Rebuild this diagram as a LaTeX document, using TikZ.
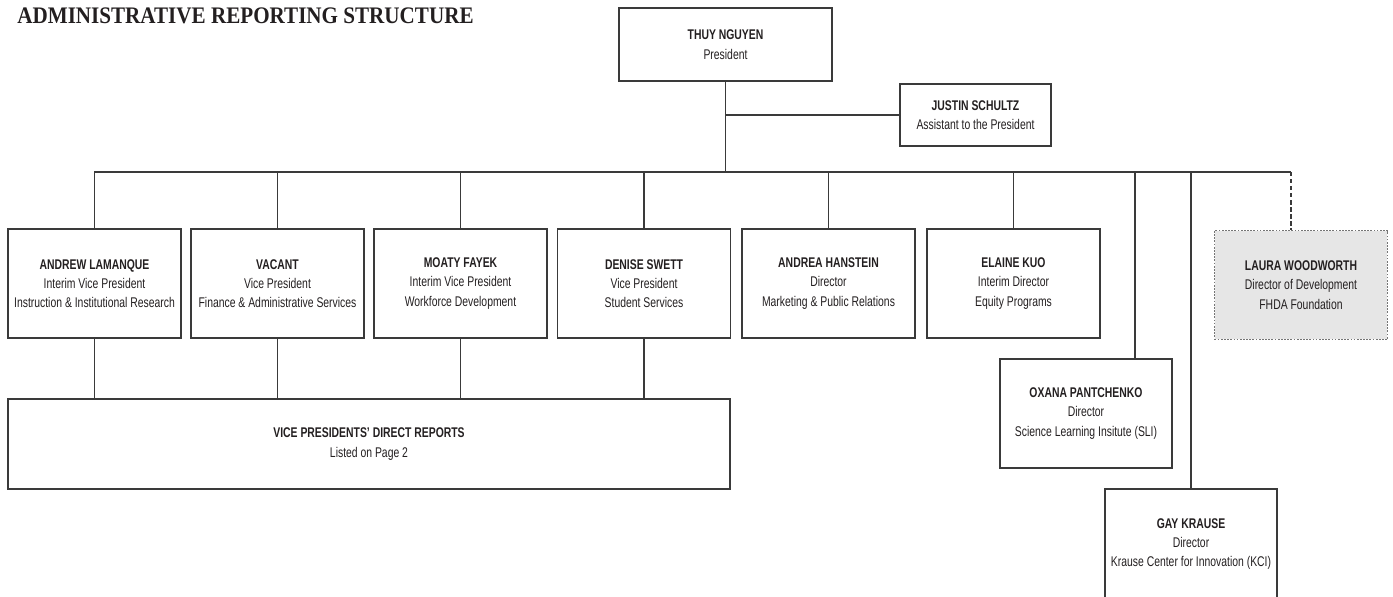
\documentclass[tikz,border=0pt]{standalone}
\usepackage{fontspec}
\setmainfont{Liberation Sans}[FakeStretch=0.74]
\newfontfamily\titlefont{Liberation Serif}[FakeStretch=0.89]
\definecolor{rule}{HTML}{3A3A3A}
\definecolor{ink}{HTML}{231F20}
\definecolor{shade}{HTML}{E6E6E6}

\begin{document}
\begin{tikzpicture}[x=0.02cm,y=-0.02cm,
  box/.style={draw=rule,line width=0.8pt,align=center,text=ink,inner sep=0pt,
    font=\fontsize{8}{11}\selectfont},
  unit/.style={box,minimum width=3.46cm,minimum height=2.18cm},
  link/.style={draw=rule,line width=0.8pt}]
\useasboundingbox (0,0) rectangle (1393,596);
\node [anchor=base west,inner sep=0pt,text=ink,font=\titlefont\bfseries\fontsize{13.5}{15}\selectfont] (title) at (17,23) {ADMINISTRATIVE REPORTING STRUCTURE};

\node [box,minimum width=4.26cm,minimum height=1.46cm] (pres) at (725.5,44.5) {\textbf{THUY NGUYEN}\\President};
\node [box,minimum width=3.02cm,minimum height=1.24cm] (asst) at (975.5,115) {\textbf{JUSTIN SCHULTZ}\\Assistant to the President};

\node [unit] (lam) at (94.5,283.5) {\textbf{ANDREW LAMANQUE}\\Interim Vice President\\Instruction \& Institutional Research};
\node [unit] (vac) at (277.5,283.5) {\textbf{VACANT}\\Vice President\\Finance \& Administrative Services};
\node [unit] (fay) at (460.5,283.5) {\textbf{MOATY FAYEK}\\Interim Vice President\\Workforce Development};
\node [unit] (swe) at (644,283.5) {\textbf{DENISE SWETT}\\Vice President\\Student Services};
\node [unit] (han) at (828.5,283.5) {\textbf{ANDREA HANSTEIN}\\Director\\Marketing \& Public Relations};
\node [unit] (kuo) at (1013.5,283.5) {\textbf{ELAINE KUO}\\Interim Director\\Equity Programs};
\node [unit,fill=shade,draw=rule!70,dash pattern=on 1pt off 0.8pt] (wood) at (1301,285) {\textbf{LAURA WOODWORTH}\\Director of Development\\FHDA Foundation};

\node [box,minimum width=14.44cm,minimum height=1.8cm] (vpr) at (369,444) {\textbf{VICE PRESIDENTS' DIRECT REPORTS}\\Listed on Page 2};
\node [unit,minimum width=3.44cm] (sli) at (1086,413.5) {\textbf{OXANA PANTCHENKO}\\Director\\Science Learning Insitute (SLI)};
\node [unit,minimum width=3.44cm,minimum height=2.2cm] (kci) at (1191,544) {\textbf{GAY KRAUSE}\\Director\\Krause Center for Innovation (KCI)};

\coordinate (bus) at (722,172);
\coordinate (sli tap) at (1135,172);
\coordinate (fnd tap) at (1291,172);

\draw [link] (pres.south) -- (pres.south |- bus);
\draw [link] (asst.west) -- (asst.west -| pres.south);
\draw [link] (lam.north) |- (fnd tap);
\draw [link,dash pattern=on 2.5pt off 1.5pt] (fnd tap) -- (fnd tap |- wood.north);
\foreach \n in {vac,fay,swe,han,kuo}
  \draw [link] (\n.north) -- (\n.north |- bus);
\draw [link] (sli tap) -- (sli tap |- sli.north);
\draw [link] (kci.north |- bus) -- (kci.north);
\foreach \n in {lam,vac,fay,swe}
  \draw [link] (\n.south) -- (\n.south |- vpr.north);
\end{tikzpicture}
\end{document}
